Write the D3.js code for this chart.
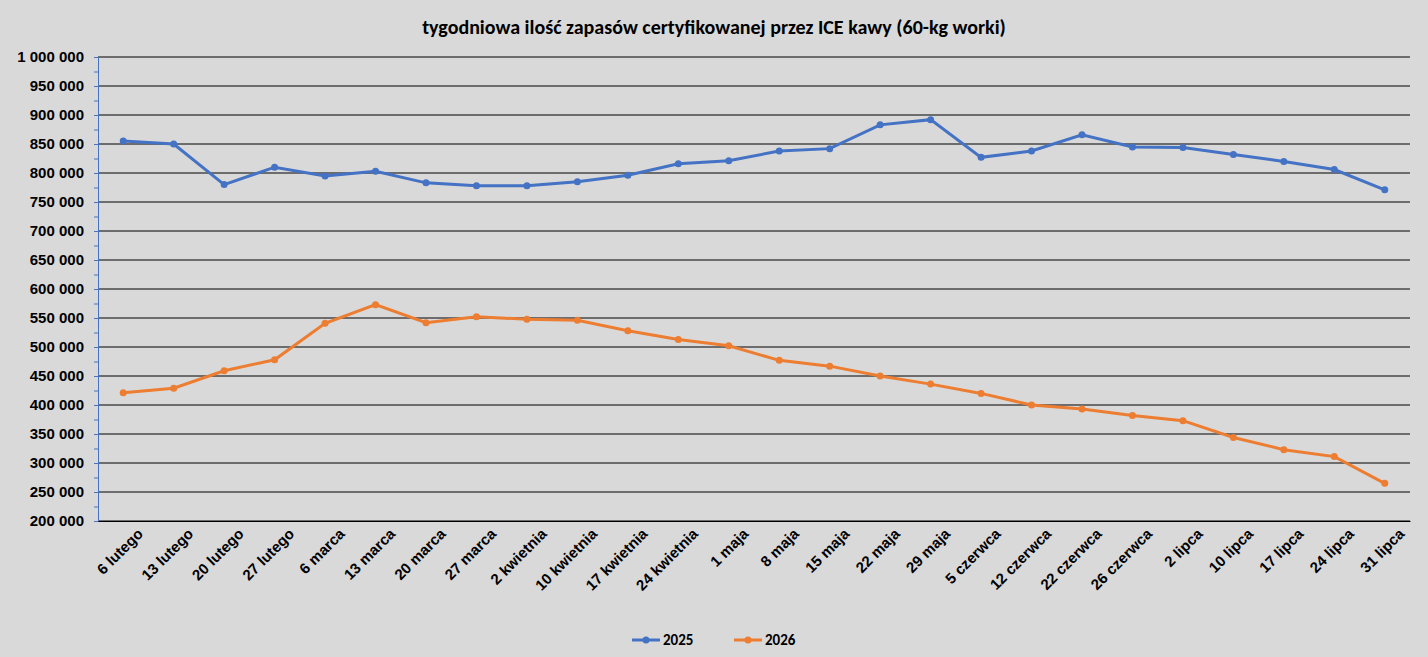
<!DOCTYPE html>
<html><head><meta charset="utf-8">
<script src="https://cdn.jsdelivr.net/npm/d3@7"></script>
<style>body{margin:0;background:#d9d9d9;font-family:Calibri,"Liberation Sans","DejaVu Sans",sans-serif;}</style>
</head><body><svg width="1428" height="657"></svg>
<script>
const categories = ["6 lutego","13 lutego","20 lutego","27 lutego","6 marca","13 marca","20 marca","27 marca","2 kwietnia","10 kwietnia","17 kwietnia","24 kwietnia","1 maja","8 maja","15 maja","22 maja","29 maja","5 czerwca","12 czerwca","22 czerwca","26 czerwca","2 lipca","10 lipca","17 lipca","24 lipca","31 lipca"];
const values2025 = [855000,850000,780000,810000,795000,803000,783000,778000,778000,785000,796000,816000,821000,838000,842000,883000,892000,827000,838000,866000,845000,844000,832000,820000,806000,771000];
const values2026 = [421000,429000,459000,478000,541000,573000,542000,552000,548000,546000,528000,513000,502000,477000,467000,450000,436000,420000,400000,393000,382000,373000,344000,323000,311000,265000];
const yTicks = d3.range(200000, 1000001, 50000);
const series = [{name:"2025", values:values2025, color:"#4472c4"},{name:"2026", values:values2026, color:"#ed7d31"}];

const svg = d3.select("svg");
svg.append("rect").attr("width",1428).attr("height",657).attr("fill","#d9d9d9");
const mLeft = 98, mRight = 1410, mTop = 57, mBottom = 521;
const x = d3.scalePoint().domain(categories).range([mLeft, mRight]).padding(0.5);
const y = d3.scaleLinear().domain([200000, 1000000]).range([mBottom, mTop]);
const fmt = v => d3.format(",")(v).replace(/,/g, "\u00a0");

svg.append("text").attr("x", 714).attr("y", 34).attr("text-anchor","middle")
  .attr("font-size", 20).attr("font-weight","bold").text("tygodniowa ilość zapasów certyfikowanej przez ICE kawy (60-kg worki)");

svg.append("g").selectAll("line").data(yTicks).join("line")
  .attr("x1", mLeft).attr("x2", mRight).attr("y1", d => y(d)).attr("y2", d => y(d))
  .attr("stroke", "#000").attr("stroke-width", 1);

const yAxis = svg.append("g").attr("transform", `translate(${mLeft},0)`)
  .call(d3.axisLeft(y).tickValues(yTicks).tickFormat(fmt).tickSize(0).tickPadding(14));
yAxis.select(".domain").attr("stroke","#4472c4");
yAxis.selectAll("text").attr("font-size", 15).attr("font-weight","bold").attr("fill","#000");
svg.append("g").attr("transform", `translate(${mLeft},0)`)
  .call(d3.axisLeft(y).tickValues(d3.range(200000, 1000001, 25000)).tickFormat("").tickSize(4))
  .call(g => { g.select(".domain").remove(); g.selectAll("line").attr("stroke","#4472c4"); });

const xAxis = svg.append("g").attr("transform", `translate(0,${mBottom})`)
  .call(d3.axisBottom(x).tickSize(0).tickPadding(6));
xAxis.select(".domain").attr("stroke","#000");
xAxis.selectAll("text").attr("font-size", 15).attr("font-weight","bold").attr("fill","#000")
  .attr("text-anchor","end").attr("dx","0.3em").attr("dy","1.2em").attr("transform","rotate(-45)");

const line = d3.line().x((d,i) => x(categories[i])).y(d => y(d));
series.forEach(s => {
  svg.append("path").datum(s.values).attr("d", line).attr("fill","none")
    .attr("stroke", s.color).attr("stroke-width", 3);
  svg.append("g").selectAll("circle").data(s.values).join("circle")
    .attr("cx", (d,i) => x(categories[i])).attr("cy", d => y(d)).attr("r", 3.5).attr("fill", s.color);
});

const legend = svg.append("g").attr("transform","translate(632,640)");
series.forEach((s,i) => {
  const g = legend.append("g").attr("transform", `translate(${i*102},0)`);
  g.append("line").attr("x1",0).attr("x2",28).attr("stroke",s.color).attr("stroke-width",3);
  g.append("circle").attr("cx",14).attr("r",3.5).attr("fill",s.color);
  g.append("text").attr("x",31).attr("dy","0.35em").attr("font-size",15).attr("font-weight","bold").text(s.name);
});
</script></body></html>
